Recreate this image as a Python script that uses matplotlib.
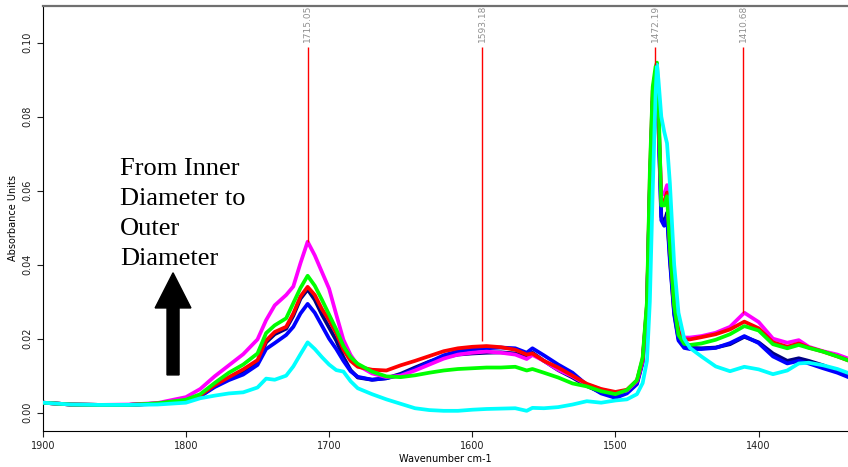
import matplotlib
matplotlib.use("Agg")
import matplotlib.pyplot as plt

# wavenumber grid (cm-1), shared by all spectra
wn = [1900, 1880, 1860, 1840, 1820, 1800, 1790, 1780, 1770, 1760,
      1750, 1744, 1738, 1730, 1725, 1720, 1715, 1710, 1705, 1700,
      1695, 1690, 1685, 1680, 1670, 1660, 1650, 1640, 1630, 1620,
      1610, 1600, 1590, 1580, 1570, 1562, 1558, 1550, 1540, 1530,
      1520, 1510, 1500, 1492, 1485, 1481, 1478, 1476, 1474, 1472,
      1471, 1470, 1468, 1466, 1464, 1462, 1459, 1456, 1452, 1448,
      1440, 1430, 1420, 1410, 1400, 1390, 1380, 1372, 1365, 1355,
      1345, 1338]

navy = [.0027, .0022, .0021, .0021, .0025, .0032, .0045, .0071, .0092, .0112,
        .0137, .0190, .0212, .0227, .0262, .0308, .0333, .0305, .0265, .0230,
        .0195, .0150, .0115, .0095, .0089, .0093, .0105, .0122, .0138, .0150,
        .0157, .0160, .0162, .0163, .0160, .0150, .0162, .0140, .0115, .0095,
        .0072, .0055, .0045, .0055, .0080, .0140, .0280, .0600, .0840, .0900,
        .0880, .0790, .0530, .0510, .0540, .0420, .0270, .0200, .0178, .0175,
        .0174, .0176, .0185, .0205, .0190, .0160, .0140, .0147, .0140, .0128,
        .0112, .0102]

blue = [.0027, .0022, .0021, .0021, .0024, .0031, .0044, .0069, .0088, .0103,
        .0129, .0172, .0188, .0210, .0232, .0268, .0294, .0270, .0235, .0200,
        .0172, .0140, .0112, .0097, .0089, .0093, .0102, .0118, .0137, .0155,
        .0166, .0171, .0174, .0176, .0174, .0162, .0174, .0155, .0130, .0108,
        .0075, .0052, .0040, .0052, .0077, .0135, .0275, .0600, .0840, .0900,
        .0880, .0780, .0520, .0505, .0530, .0410, .0265, .0195, .0175, .0172,
        .0172, .0175, .0188, .0207, .0188, .0152, .0133, .0140, .0133, .0120,
        .0108, .0097]

magenta = [.0027, .0022, .0021, .0022, .0026, .0042, .0064, .0098, .0128, .0158,
           .0198, .0250, .0290, .0318, .0341, .0404, .0462, .0425, .0380, .0335,
           .0265, .0197, .0156, .0128, .0106, .0096, .0100, .0114, .0130, .0146,
           .0157, .0162, .0165, .0162, .0157, .0145, .0156, .0140, .0116, .0098,
           .0076, .0063, .0053, .0060, .0085, .0140, .0290, .0600, .0850, .0905,
           .0890, .0800, .0590, .0590, .0615, .0460, .0300, .0225, .0203, .0203,
           .0207, .0216, .0232, .0270, .0245, .0200, .0189, .0196, .0178, .0166,
           .0157, .0147]

red = [.0027, .0022, .0021, .0021, .0025, .0033, .0047, .0074, .0096, .0117,
       .0142, .0195, .0218, .0232, .0268, .0314, .0340, .0318, .0280, .0250,
       .0215, .0170, .0140, .0124, .0116, .0114, .0128, .0140, .0153, .0166,
       .0174, .0178, .0180, .0177, .0170, .0157, .0160, .0140, .0122, .0100,
       .0078, .0064, .0056, .0062, .0087, .0145, .0290, .0630, .0870, .0920,
       .0900, .0810, .0570, .0570, .0595, .0455, .0295, .0220, .0198, .0198,
       .0204, .0212, .0225, .0246, .0228, .0190, .0178, .0187, .0176, .0165,
       .0152, .0142]

green = [.0027, .0022, .0021, .0021, .0025, .0035, .0050, .0080, .0108, .0130,
         .0160, .0215, .0236, .0255, .0296, .0337, .0370, .0343, .0305, .0265,
         .0225, .0180, .0150, .0132, .0111, .0098, .0096, .0101, .0108, .0114,
         .0118, .0120, .0122, .0122, .0124, .0114, .0118, .0108, .0095, .0079,
         .0071, .0058, .0050, .0061, .0088, .0150, .0300, .0650, .0880, .0935,
         .0946, .0850, .0560, .0560, .0585, .0450, .0290, .0210, .0186, .0183,
         .0187, .0197, .0212, .0234, .0222, .0185, .0174, .0183, .0175, .0165,
         .0152, .0142]

cyan = [.0027, .0022, .0021, .0021, .0022, .0027, .0039, .0046, .0052, .0055,
        .0068, .0092, .0089, .0100, .0125, .0158, .0190, .0172, .0150, .0130,
        .0115, .0111, .0085, .0066, .0050, .0036, .0024, .0012, .0007, .0005,
        .0005, .0008, .0010, .0011, .0012, .0005, .0013, .0012, .0015, .0022,
        .0031, .0027, .0033, .0036, .0050, .0080, .0140, .0300, .0600, .0860,
        .0940, .0900, .0800, .0760, .0728, .0620, .0400, .0270, .0200, .0175,
        .0152, .0125, .0112, .0124, .0117, .0104, .0114, .0133, .0135, .0128,
        .0118, .0108]

peak_pos = [1715.05, 1593.18, 1472.19, 1410.68]
peak_top = [0.0462, 0.0195, 0.0940, 0.0268]
peak_labels = ["1715.05", "1593.18", "1472.19", "1410.68"]

fig = plt.figure(figsize=(8.48, 4.67), dpi=100)
ax = fig.add_axes([0.0504, 0.0771, 0.9496, 0.9101])

series = [(navy, "#000080"), (blue, "#0000ff"), (magenta, "#ff00ff"),
          (red, "#ff0000"), (green, "#00ff00"), (cyan, "#00ffff")]
for vals, col in series:
    ax.plot(wn, vals, color=col, lw=2.7, solid_joinstyle="round", zorder=3)

# peak markers
for x, top, lab in zip(peak_pos, peak_top, peak_labels):
    ax.vlines(x, top, 0.0988, color="red", lw=1, zorder=4)
    ax.text(x, 0.1003, lab, rotation=90, ha="center", va="bottom",
            fontsize=6.5, color="#909090")

ax.text(1846, 0.0687, "From Inner\nDiameter to\nOuter\nDiameter",
        family="Liberation Serif", fontsize=19, ha="left", va="top",
        linespacing=1.455)
ax.arrow(1809, 0.0102, 0, 0.0276, width=8.4, head_width=25,
         head_length=0.0095, length_includes_head=True,
         color="black", zorder=5)

ax.set_xlim(1900, 1337.6)
ax.set_ylim(-0.00495, 0.1099)
ax.set_xticks([1900, 1800, 1700, 1600, 1500, 1400])
ax.set_yticks([0.00, 0.02, 0.04, 0.06, 0.08, 0.10])
ax.set_yticklabels(["0.00", "0.02", "0.04", "0.06", "0.08", "0.10"],
                   rotation=90, va="center")
ax.tick_params(labelsize=7, length=4, width=0.8, colors="#202020")
ax.set_xlabel("Wavenumber cm-1", fontsize=7, labelpad=2)
ax.set_ylabel("Absorbance Units", fontsize=7, labelpad=3)

ax.spines["right"].set_visible(False)
ax.spines["top"].set_color("#707070")
ax.spines["top"].set_linewidth(1.6)

plt.savefig("out.png", dpi=100)
